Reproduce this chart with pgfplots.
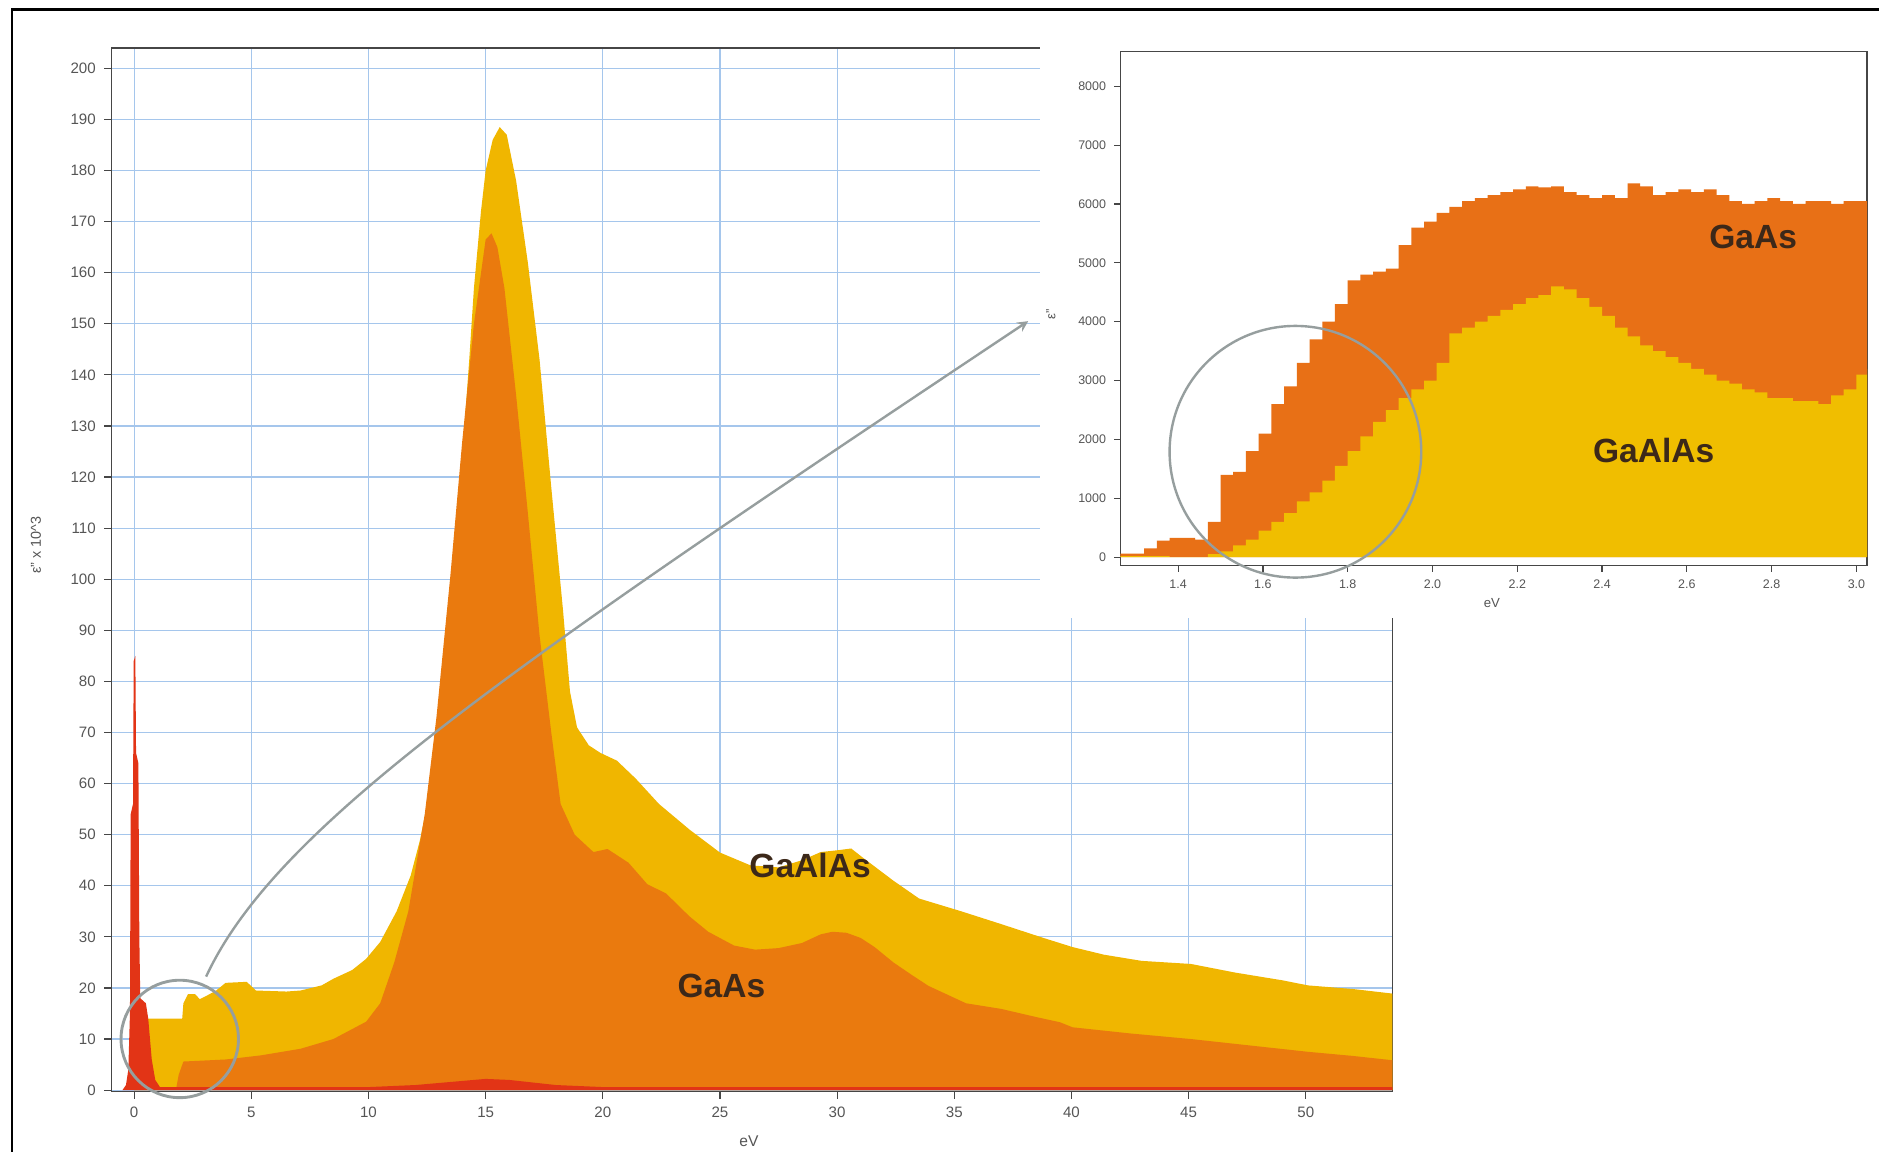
\documentclass[border=0pt]{standalone}
\usepackage{pgfplots}
\pgfplotsset{compat=1.18}
\usepackage{fontspec}
\setmainfont{Liberation Sans}
\definecolor{cyel}{RGB}{240,182,0}
\definecolor{cora}{RGB}{234,122,14}
\definecolor{cred}{RGB}{226,52,22}
\definecolor{iyel}{RGB}{240,190,0}
\definecolor{iora}{RGB}{232,112,22}
\definecolor{gridblue}{RGB}{165,198,236}
\definecolor{axgray}{RGB}{70,70,70}
\definecolor{tickgray}{RGB}{85,85,85}
\definecolor{circgray}{RGB}{150,158,158}
\definecolor{lbl}{RGB}{60,40,25}
\begin{document}
\begin{tikzpicture}[x=1pt,y=1pt]
\useasboundingbox (0,0) rectangle (784,480.5);
\begin{axis}[
  at={(46.5pt,25pt)}, anchor=south west,
  width=534.5pt, height=435.5pt, scale only axis,
  xmin=-0.97, xmax=53.7, ymin=-0.3, ymax=204,
  xtick={0,5,...,50}, ytick={0,10,...,200},
  grid=major, major grid style={line width=0.5pt, draw=gridblue},
  axis line style={draw=axgray, line width=0.6pt},
  tick style={draw=axgray, line width=0.5pt},
  tick align=outside, major tick length=3pt,
  xtick pos=bottom, ytick pos=left,
  /pgf/number format/assume math mode=true,
  tick label style={font=\fontsize{6.3}{7}\selectfont, text=tickgray},
]
% GaAlAs (yellow)
\addplot[fill=cyel, draw=none] coordinates {
(0.0,14) (2.05,14) (2.1,17) (2.3,18.8) (2.6,18.8) (2.8,17.8) (3.1,18.5) (3.5,19.5)
(3.9,21) (4.8,21.2) (5.2,19.5) (6.5,19.3) (7.1,19.5) (8.0,20.5) (8.5,21.8) (9.3,23.5)
(9.9,25.7) (10.5,29) (11.2,35) (11.8,42) (12.2,49) (12.6,58) (12.9,68) (13.2,79)
(13.5,92) (13.8,110) (14.0,124) (14.3,143) (14.5,157) (14.8,172) (15.0,180) (15.3,186)
(15.6,188.5) (15.9,187) (16.3,178) (16.8,162) (17.3,143) (17.8,118) (18.3,94) (18.6,78)
(18.9,71) (19.4,67.5) (19.9,66) (20.6,64.5) (21.4,61) (22.4,56) (23.7,51) (25.0,46.5)
(26.3,44) (27.5,43.6) (28.5,45) (29.3,46.6) (30.1,47) (30.6,47.3) (31.1,45.5) (32.4,41)
(33.5,37.5) (35.3,35) (37.0,32.5) (38.8,29.8) (40.05,28) (41.4,26.5) (43.0,25.3)
(45.1,24.7) (47.0,23) (49.0,21.5) (50.1,20.5) (52.0,19.8) (53.7,18.9)
} \closedcycle;
% GaAs (orange)
\addplot[fill=cora, draw=none] coordinates {
(0.0,0.5) (1.8,0.5) (1.9,3) (2.1,5.6) (3.9,6) (5.4,6.8) (7.1,8.1) (8.5,10) (9.9,13.4)
(10.5,17) (11.1,25) (11.7,35) (12.4,54) (12.9,73) (13.5,101) (14.0,127) (14.5,150)
(15.0,166.5) (15.25,167.7) (15.5,165) (15.8,157) (16.3,136) (16.8,113) (17.3,89)
(17.8,70) (18.2,56) (18.8,50) (19.6,46.6) (20.2,47.2) (20.6,46) (21.1,44.5) (21.9,40.3)
(22.7,38.5) (23.7,34) (24.5,31) (25.6,28.3) (26.5,27.5) (27.5,27.8) (28.5,28.8)
(29.3,30.5) (29.8,31) (30.4,30.8) (31.0,29.8) (31.6,28) (32.4,25) (33.2,22.5)
(33.9,20.4) (34.7,18.7) (35.5,17) (37.0,15.9) (38.5,14.3) (39.5,13.3) (40.05,12.3)
(42.5,11.1) (45.1,10) (47.5,8.8) (50.1,7.5) (52.0,6.7) (53.7,5.85)
} \closedcycle;
% red
\addplot[fill=cred, draw=none] coordinates {
(-0.5,0) (-0.35,1) (-0.25,4) (-0.18,15) (-0.15,54) (-0.05,56) (-0.02,84) (0.05,85)
(0.08,66) (0.18,64) (0.22,30) (0.26,18) (0.5,17) (0.6,14) (0.75,6) (0.9,2) (1.1,0.6)
(10,0.6) (12,1) (14,1.8) (15,2.2) (16,2) (18,1) (20,0.6) (53.7,0.6)
} \closedcycle;
\end{axis}
% white panel behind inset
\fill[white] (434,222.5) rectangle (784,474);
\begin{axis}[
  at={(467.5pt,244.5pt)}, anchor=south west,
  width=311.5pt, height=214.5pt, scale only axis,
  xmin=1.264, xmax=3.025, ymin=-143, ymax=8590,
  xtick={1.4,1.6,1.8,2.0,2.2,2.4,2.6,2.8,3.0},
  ytick={0,1000,...,8000},
  axis line style={draw=axgray, line width=0.7pt},
  tick style={draw=axgray, line width=0.5pt},
  tick align=outside, major tick length=2.5pt,
  xtick pos=bottom, ytick pos=left,
  /pgf/number format/assume math mode=true,
  xticklabel style={/pgf/number format/.cd, fixed, fixed zerofill, precision=1},
  yticklabel style={/pgf/number format/.cd, 1000 sep={}},
  tick label style={font=\fontsize{5.2}{6}\selectfont, text=tickgray},
]
\addplot[const plot, fill=iora, draw=none] coordinates {
(1.26,60) (1.29,60) (1.32,150) (1.35,280) (1.38,330) (1.41,330) (1.44,300) (1.47,600)
(1.50,1400) (1.53,1450) (1.56,1800) (1.59,2100) (1.62,2600) (1.65,2900) (1.68,3300)
(1.71,3700) (1.74,4000) (1.77,4300) (1.80,4700) (1.83,4800) (1.86,4850) (1.89,4900)
(1.92,5300) (1.95,5600) (1.98,5700) (2.01,5850) (2.04,5950) (2.07,6050) (2.10,6100)
(2.13,6150) (2.16,6200) (2.19,6250) (2.22,6300) (2.25,6280) (2.28,6300) (2.31,6200)
(2.34,6150) (2.37,6100) (2.40,6150) (2.43,6100) (2.46,6350) (2.49,6300) (2.52,6150)
(2.55,6200) (2.58,6250) (2.61,6200) (2.64,6250) (2.67,6150) (2.70,6050) (2.73,6000)
(2.76,6050) (2.79,6100) (2.82,6050) (2.85,6000) (2.88,6050) (2.91,6050) (2.94,6000)
(2.97,6050) (3.00,6050) (3.025,6050)
} \closedcycle;
\addplot[const plot, fill=iyel, draw=none] coordinates {
(1.26,20) (1.29,20) (1.32,20) (1.35,20) (1.38,0) (1.41,0) (1.44,0) (1.47,50) (1.50,100)
(1.53,200) (1.56,300) (1.59,450) (1.62,600) (1.65,750) (1.68,950) (1.71,1100)
(1.74,1300) (1.77,1550) (1.80,1800) (1.83,2050) (1.86,2300) (1.89,2500) (1.92,2700)
(1.95,2850) (1.98,3000) (2.01,3300) (2.04,3800) (2.07,3900) (2.10,4000) (2.13,4100)
(2.16,4200) (2.19,4300) (2.22,4400) (2.25,4450) (2.28,4600) (2.31,4550) (2.34,4400)
(2.37,4250) (2.40,4100) (2.43,3900) (2.46,3750) (2.49,3600) (2.52,3500) (2.55,3400)
(2.58,3300) (2.61,3200) (2.64,3100) (2.67,3000) (2.70,2950) (2.73,2850) (2.76,2800)
(2.79,2700) (2.82,2700) (2.85,2650) (2.88,2650) (2.91,2600) (2.94,2750) (2.97,2850)
(3.00,3100) (3.025,3200)
} \closedcycle;
\end{axis}
% annotations
\draw[circgray, line width=1.2pt] (75,47) circle (24.5);
\draw[circgray, line width=1pt, -stealth] (86,73) .. controls (115,135.5) and (210,200.5) .. (429,346.5);
\draw[circgray, line width=1pt] (540.5,292) circle (52.5);
% labels
\node[font=\fontsize{14}{16}\selectfont\bfseries, text=lbl] at (338,119.5) {GaAlAs};
\node[font=\fontsize{14}{16}\selectfont\bfseries, text=lbl] at (301,69) {GaAs};
\node[font=\fontsize{14}{16}\selectfont\bfseries, text=lbl] at (731.5,381.5) {GaAs};
\node[font=\fontsize{14}{16}\selectfont\bfseries, text=lbl] at (690,292.5) {GaAlAs};
\node[font=\fontsize{6.5}{7}\selectfont, text=tickgray] at (312.5,4.5) {eV};
\node[font=\fontsize{6}{7}\selectfont, text=tickgray, rotate=90] at (15,253) {ε'' x 10\textasciicircum 3};
\node[font=\fontsize{5.5}{6}\selectfont, text=tickgray] at (622.5,229) {eV};
\node[font=\fontsize{5.5}{6}\selectfont, text=tickgray, rotate=90] at (438.5,349.5) {ε''};
% image frame
\draw[black, line width=1.2pt] (5,0) -- (5,476.5) -- (784,476.5);
\end{tikzpicture}
\end{document}
